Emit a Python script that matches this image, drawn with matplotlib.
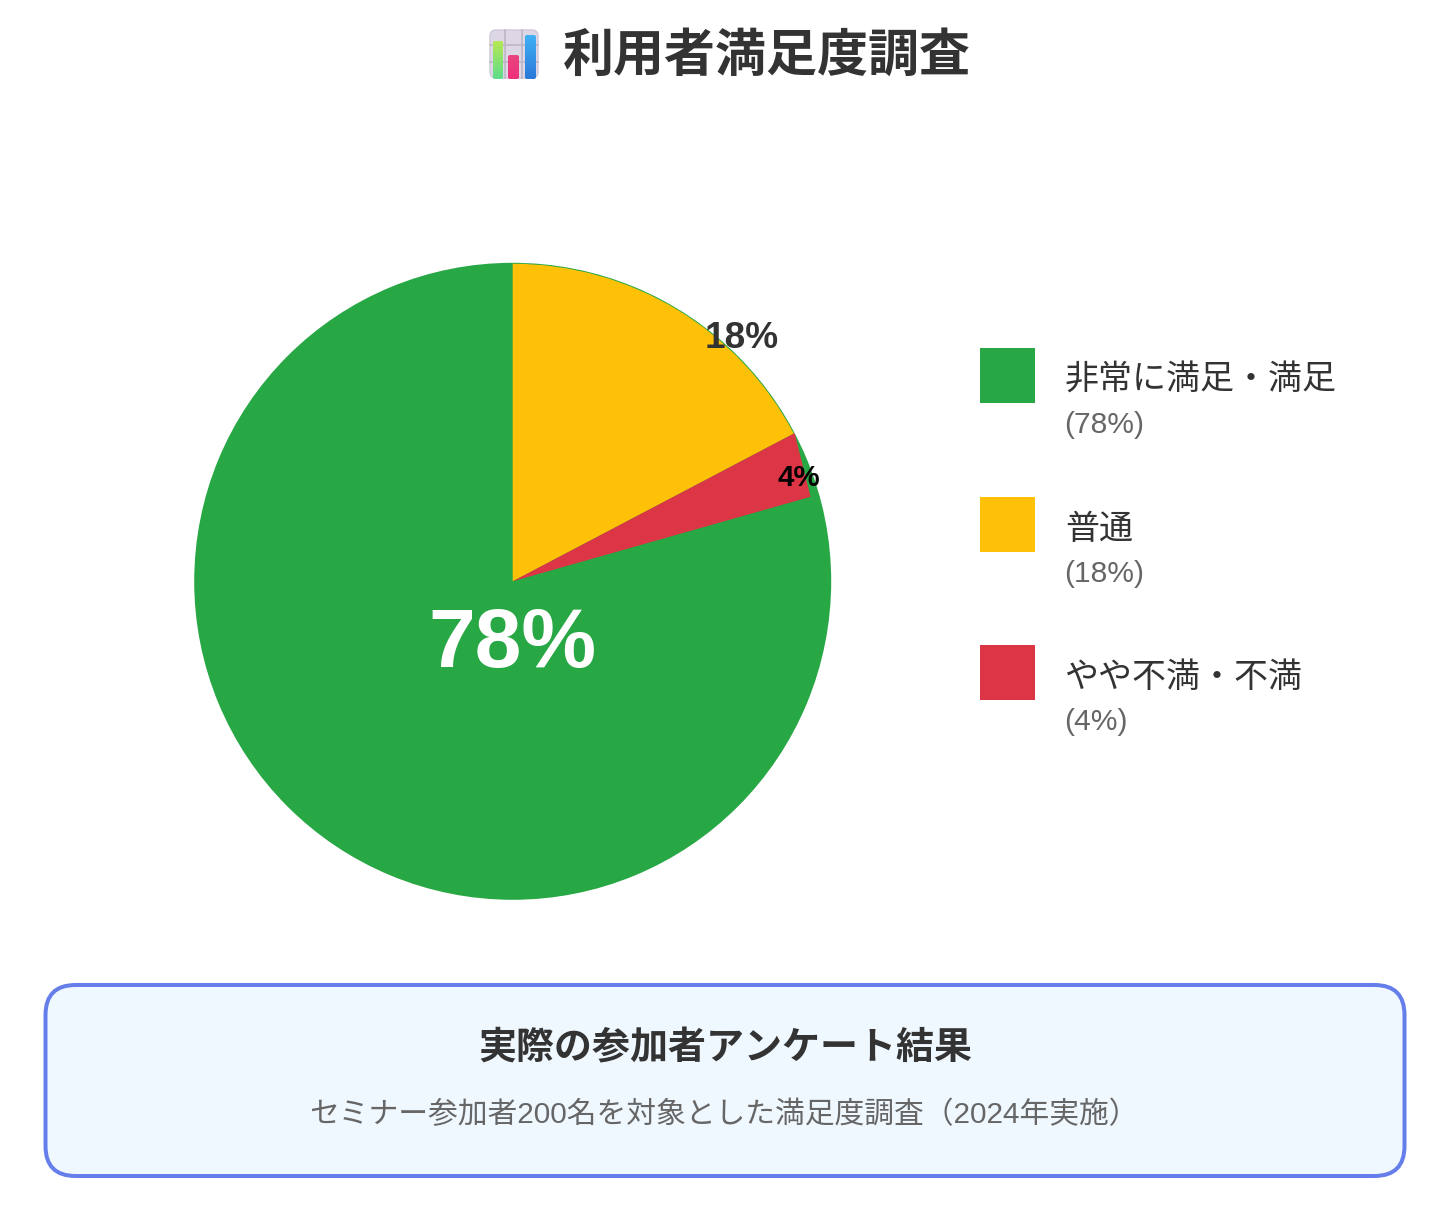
import numpy as np
import matplotlib
matplotlib.use('Agg')
import matplotlib.pyplot as plt
from matplotlib.patches import FancyBboxPatch, Polygon, Rectangle

plt.rcParams['font.family'] = ['Liberation Sans', 'Noto Sans CJK JP']

W, H = 1448, 1224
PX = 0.72  # px -> pt at dpi 100

# data
categories = ['非常に満足・満足', '普通', 'やや不満・不満']
percent_labels = [78, 18, 4]
colors = ['#28a745', '#ffc107', '#dc3545']
# angular share as it is drawn in the picture (percent of the circle)
drawn_yellow = 17.3
drawn_red = 3.3
red_end_radius = 0.972  # the red slice stops short of the rim at its far end

title = '利用者満足度調査'
card_title = '実際の参加者アンケート結果'
card_text = 'セミナー参加者200名を対象とした満足度調査（2024年実施）'

fig = plt.figure(figsize=(W / 100, H / 100), dpi=100, facecolor='white')

# pie axes
cx, cy, r = 512.7, 581.3, 318.5
ax = fig.add_axes([(cx - r) / W, 1 - (cy + r) / H, 2 * r / W, 2 * r / H])
ax.pie([100], colors=[colors[0]], startangle=90, radius=1)
wedges, _ = ax.pie([drawn_yellow, drawn_red, 100 - drawn_yellow - drawn_red],
                   colors=[colors[1], 'none', 'none'],
                   startangle=90, counterclock=False, radius=0.997)
a0 = np.deg2rad(90 - drawn_yellow * 3.6)
a1 = np.deg2rad(90 - (drawn_yellow + drawn_red) * 3.6)
ax.add_patch(Polygon([[0, 0],
                      [np.cos(a0), np.sin(a0)],
                      [red_end_radius * np.cos(a1), red_end_radius * np.sin(a1)]],
                     closed=True, facecolor=colors[2], edgecolor='none'))
ax.set_xlim(-1, 1)
ax.set_ylim(-1, 1)
ax.set_aspect('equal')
ax.axis('off')

# full figure axes in pixel coords for text and boxes
top = fig.add_axes([0, 0, 1, 1])
top.axis('off')
top.patch.set_alpha(0)

top.text(512, 645, f'{percent_labels[0]}%', color='white', fontsize=84 * PX, fontweight='bold',
         ha='center', va='center')
top.text(742, 339, f'{percent_labels[1]}%', color='#333333', fontsize=37 * PX, fontweight='bold',
         ha='center', va='center')
top.text(799, 478, f'{percent_labels[2]}%', color='black', fontsize=29.5 * PX, fontweight='bold',
         ha='center', va='center')

# title and icon
top.text(767, 57, title, color='#333333', fontsize=51 * PX, fontweight='bold', ha='center', va='center')

top.add_patch(FancyBboxPatch((490, 30), 48, 48, boxstyle='round,pad=0,rounding_size=6',
                             facecolor='#ddd7e5', edgecolor='#cfc8d8', linewidth=1))
for x in [505, 522]:
    top.plot([x, x], [30, 78], color='#bdb6c6', lw=1.2)
for y in [45, 62]:
    top.plot([490, 538], [y, y], color='#bdb6c6', lw=1.2)
icon_bars = [(493, 503, 41, '#b5e853', '#5fdc8c'),
             (508, 519, 55, '#e8457f', '#f0307a'),
             (525, 536, 35, '#3fb0f5', '#2a78d8')]
for x0, x1, y0, c0, c1 in icon_bars:
    rgb0 = np.array(matplotlib.colors.to_rgb(c0))
    rgb1 = np.array(matplotlib.colors.to_rgb(c1))
    grad = np.linspace(0, 1, 32)[:, None, None] * (rgb1 - rgb0) + rgb0
    im = top.imshow(grad, extent=(x0, x1, 79, y0), aspect='auto', zorder=3)
    bar = FancyBboxPatch((x0, y0), x1 - x0, 79 - y0, boxstyle='round,pad=0,rounding_size=2',
                         facecolor='none', edgecolor='none')
    top.add_patch(bar)
    im.set_clip_path(bar)

# legend
legend_y = [348, 497, 645]
for name, pct, c, y in zip(categories, percent_labels, colors, legend_y):
    top.add_patch(Rectangle((980, y), 55, 55, facecolor=c, edgecolor='none'))
    top.text(1065, y + 33, name, color='#333333', fontsize=34 * PX, ha='left', va='center')
    top.text(1064.5, y + 77, f'({pct}%)', color='#666666', fontsize=30 * PX, ha='left', va='center')

# card
top.add_patch(FancyBboxPatch((45.5, 985), 1359, 191, boxstyle='round,pad=0,rounding_size=30',
                             facecolor='#f0f8ff', edgecolor='#667eea', linewidth=4 * PX))
top.text(725, 1049, card_title, color='#333333', fontsize=38 * PX, fontweight='bold',
         ha='center', va='center')
top.text(724, 1115, card_text, color='#666666', fontsize=29.8 * PX, ha='center', va='center')

top.set_xlim(0, W)
top.set_ylim(H, 0)

fig.savefig('out.png', dpi=100)
